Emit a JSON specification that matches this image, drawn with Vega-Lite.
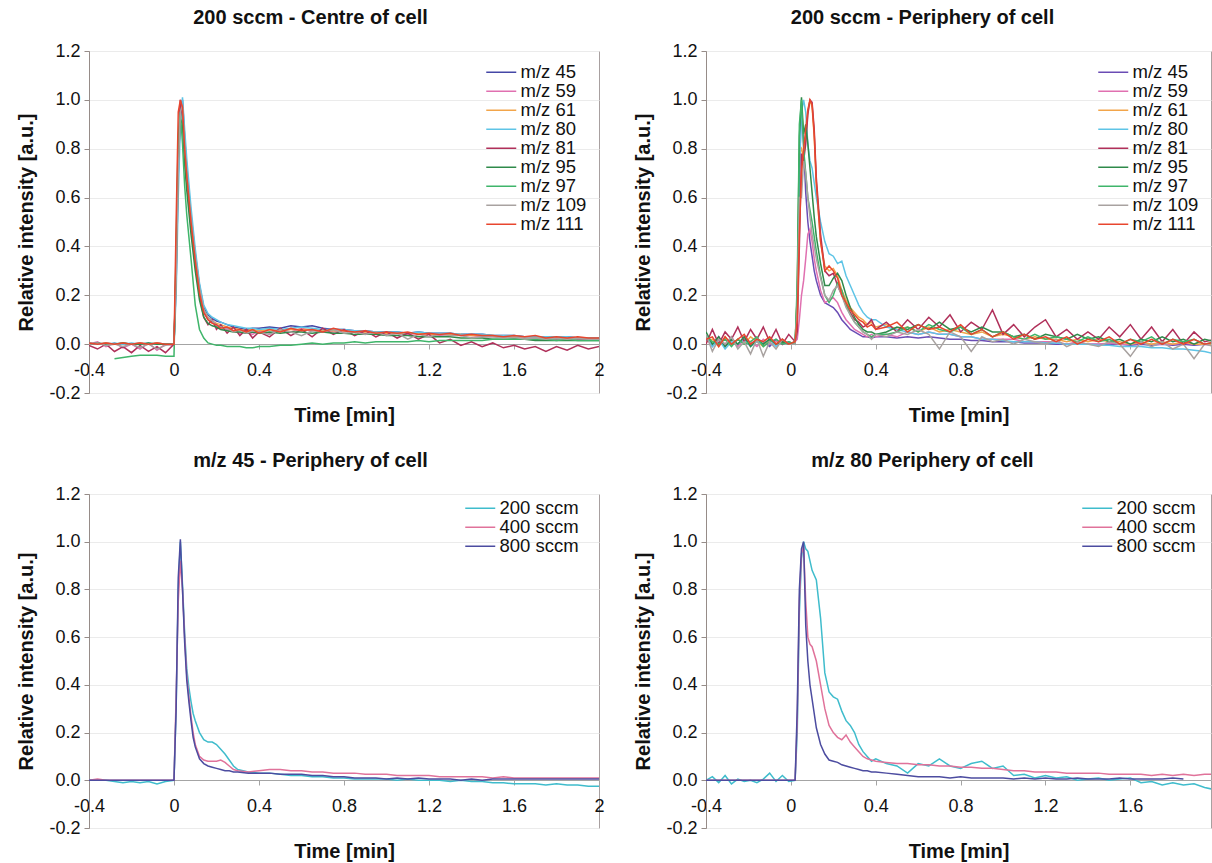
{
"$schema": "https://vega.github.io/schema/vega-lite/v6.json",
"background": "white",
"padding": {"left": 16, "top": 7, "right": 0, "bottom": 0},
"columns": 2,
"align": "each",
"spacing": {"row": 24, "column": 28},
"resolve": {"scale": {"color": "independent"}},
"config": {
  "font": "Liberation Sans",
  "view": {"stroke": "#a8a0a0", "strokeWidth": 1},
  "axis": {"labelFont": "Liberation Sans", "labelFontSize": 18, "labelColor": "#111111", "titleFont": "Liberation Sans", "titleFontSize": 20, "titleFontWeight": "bold", "titleColor": "#111111", "domainColor": "#968c88", "tickColor": "#968c88", "tickSize": 5, "labelOverlap": false, "labelFlush": false},
  "axisX": {"grid": false, "labelPadding": 12, "titlePadding": 26, "domainColor": "#a4a4a4", "tickColor": "#a4a4a4"},
  "axisY": {"grid": true, "gridColor": "#ebebeb", "labelPadding": 4, "titlePadding": 12},
  "legend": {"orient": "top-right", "offset": 12, "symbolType": "M-3,0H3", "symbolSize": 100, "symbolStrokeWidth": 1.5, "labelFont": "Liberation Sans", "labelFontSize": 18.5, "labelColor": "#111111", "labelOffset": 10, "rowPadding": 0, "padding": 0},
  "title": {"font": "Liberation Sans", "fontSize": 20, "fontWeight": "bold", "color": "#111111", "anchor": "middle", "frame": "bounds", "offset": 14},
  "line": {"strokeWidth": 1.5, "clip": true}
},
"datasets": {
"tl": [
{"t":-0.4,"m/z 45":0.005,"m/z 59":0,"m/z 61":0.005,"m/z 80":0.005,"m/z 81":-0.005,"m/z 95":0,"m/z 97":null,"m/z 109":0,"m/z 111":0.005},
{"t":-0.36,"m/z 45":0,"m/z 59":0.01,"m/z 61":0,"m/z 80":0,"m/z 81":-0.02,"m/z 95":0.005,"m/z 97":null,"m/z 109":0.005,"m/z 111":0},
{"t":-0.32,"m/z 45":0.005,"m/z 59":-0.01,"m/z 61":0.005,"m/z 80":0,"m/z 81":0,"m/z 95":0,"m/z 97":null,"m/z 109":-0.005,"m/z 111":0.005},
{"t":-0.28,"m/z 45":0,"m/z 59":0.005,"m/z 61":0,"m/z 80":0.005,"m/z 81":-0.03,"m/z 95":0,"m/z 97":-0.06,"m/z 109":0,"m/z 111":0},
{"t":-0.24,"m/z 45":0.005,"m/z 59":-0.015,"m/z 61":0.005,"m/z 80":0,"m/z 81":-0.01,"m/z 95":0.005,"m/z 97":-0.055,"m/z 109":-0.01,"m/z 111":0.005},
{"t":-0.2,"m/z 45":0,"m/z 59":0,"m/z 61":0,"m/z 80":0.005,"m/z 81":-0.035,"m/z 95":0,"m/z 97":-0.05,"m/z 109":0,"m/z 111":0},
{"t":-0.16,"m/z 45":0.005,"m/z 59":-0.02,"m/z 61":0.005,"m/z 80":0,"m/z 81":-0.005,"m/z 95":0,"m/z 97":-0.045,"m/z 109":-0.015,"m/z 111":0.005},
{"t":-0.12,"m/z 45":0,"m/z 59":0.005,"m/z 61":0,"m/z 80":0.005,"m/z 81":-0.03,"m/z 95":0.005,"m/z 97":-0.045,"m/z 109":0,"m/z 111":0},
{"t":-0.08,"m/z 45":0.005,"m/z 59":-0.025,"m/z 61":0.005,"m/z 80":0,"m/z 81":-0.01,"m/z 95":0,"m/z 97":-0.045,"m/z 109":-0.02,"m/z 111":0.005},
{"t":-0.04,"m/z 45":0,"m/z 59":0,"m/z 61":0,"m/z 80":0,"m/z 81":-0.035,"m/z 95":0,"m/z 97":-0.05,"m/z 109":-0.005,"m/z 111":0},
{"t":0,"m/z 45":0,"m/z 59":-0.005,"m/z 61":0,"m/z 80":0,"m/z 81":0,"m/z 95":0,"m/z 97":-0.05,"m/z 109":0,"m/z 111":0},
{"t":0.01,"m/z 45":0.25,"m/z 59":0.3,"m/z 61":0.3,"m/z 80":0.2,"m/z 81":0.35,"m/z 95":0.3,"m/z 97":0.4,"m/z 109":0.25,"m/z 111":0.5},
{"t":0.02,"m/z 45":0.7,"m/z 59":0.75,"m/z 61":0.75,"m/z 80":0.6,"m/z 81":0.8,"m/z 95":0.75,"m/z 97":0.85,"m/z 109":0.7,"m/z 111":0.95},
{"t":0.03,"m/z 45":0.95,"m/z 59":0.98,"m/z 61":0.97,"m/z 80":0.9,"m/z 81":1.0,"m/z 95":0.92,"m/z 97":0.95,"m/z 109":0.95,"m/z 111":1.0},
{"t":0.04,"m/z 45":1.0,"m/z 59":0.95,"m/z 61":0.96,"m/z 80":1.01,"m/z 81":0.93,"m/z 95":0.9,"m/z 97":0.82,"m/z 109":0.98,"m/z 111":0.97},
{"t":0.05,"m/z 45":0.85,"m/z 59":0.78,"m/z 61":0.8,"m/z 80":0.88,"m/z 81":0.76,"m/z 95":0.74,"m/z 97":0.65,"m/z 109":0.82,"m/z 111":0.8},
{"t":0.06,"m/z 45":0.72,"m/z 59":0.68,"m/z 61":0.7,"m/z 80":0.76,"m/z 81":0.66,"m/z 95":0.63,"m/z 97":0.53,"m/z 109":0.7,"m/z 111":0.69},
{"t":0.08,"m/z 45":0.53,"m/z 59":0.5,"m/z 61":0.51,"m/z 80":0.56,"m/z 81":0.49,"m/z 95":0.45,"m/z 97":0.35,"m/z 109":0.52,"m/z 111":0.5},
{"t":0.1,"m/z 45":0.37,"m/z 59":0.34,"m/z 61":0.35,"m/z 80":0.39,"m/z 81":0.33,"m/z 95":0.3,"m/z 97":0.16,"m/z 109":0.36,"m/z 111":0.34},
{"t":0.12,"m/z 45":0.24,"m/z 59":0.21,"m/z 61":0.22,"m/z 80":0.25,"m/z 81":0.2,"m/z 95":0.18,"m/z 97":0.06,"m/z 109":0.23,"m/z 111":0.21},
{"t":0.14,"m/z 45":0.15,"m/z 59":0.13,"m/z 61":0.14,"m/z 80":0.16,"m/z 81":0.11,"m/z 95":0.11,"m/z 97":0.025,"m/z 109":0.14,"m/z 111":0.13},
{"t":0.16,"m/z 45":0.12,"m/z 59":0.1,"m/z 61":0.11,"m/z 80":0.125,"m/z 81":0.08,"m/z 95":0.085,"m/z 97":0.005,"m/z 109":0.11,"m/z 111":0.1},
{"t":0.18,"m/z 45":0.105,"m/z 59":0.09,"m/z 61":0.095,"m/z 80":0.11,"m/z 81":0.1,"m/z 95":0.075,"m/z 97":0,"m/z 109":0.095,"m/z 111":0.085},
{"t":0.2,"m/z 45":0.095,"m/z 59":0.075,"m/z 61":0.085,"m/z 80":0.1,"m/z 81":0.06,"m/z 95":0.07,"m/z 97":-0.005,"m/z 109":0.08,"m/z 111":0.08},
{"t":0.22,"m/z 45":0.09,"m/z 59":0.07,"m/z 61":0.08,"m/z 80":0.09,"m/z 81":0.08,"m/z 95":0.06,"m/z 97":-0.005,"m/z 109":0.07,"m/z 111":0.065},
{"t":0.25,"m/z 45":0.08,"m/z 59":0.06,"m/z 61":0.07,"m/z 80":0.08,"m/z 81":0.045,"m/z 95":0.055,"m/z 97":-0.01,"m/z 109":0.065,"m/z 111":0.07},
{"t":0.28,"m/z 45":0.07,"m/z 59":0.055,"m/z 61":0.065,"m/z 80":0.075,"m/z 81":0.07,"m/z 95":0.05,"m/z 97":-0.01,"m/z 109":0.05,"m/z 111":0.055},
{"t":0.31,"m/z 45":0.065,"m/z 59":0.045,"m/z 61":0.06,"m/z 80":0.07,"m/z 81":0.035,"m/z 95":0.05,"m/z 97":-0.01,"m/z 109":0.06,"m/z 111":0.06},
{"t":0.34,"m/z 45":0.06,"m/z 59":0.05,"m/z 61":0.055,"m/z 80":0.065,"m/z 81":0.06,"m/z 95":0.045,"m/z 97":-0.015,"m/z 109":0.045,"m/z 111":0.05},
{"t":0.37,"m/z 45":0.065,"m/z 59":0.04,"m/z 61":0.06,"m/z 80":0.065,"m/z 81":0.025,"m/z 95":0.05,"m/z 97":-0.015,"m/z 109":0.055,"m/z 111":0.06},
{"t":0.4,"m/z 45":0.065,"m/z 59":0.055,"m/z 61":0.055,"m/z 80":0.06,"m/z 81":0.05,"m/z 95":0.045,"m/z 97":-0.01,"m/z 109":0.05,"m/z 111":0.045},
{"t":0.45,"m/z 45":0.07,"m/z 59":0.045,"m/z 61":0.06,"m/z 80":0.065,"m/z 81":0.03,"m/z 95":0.05,"m/z 97":-0.01,"m/z 109":0.04,"m/z 111":0.06},
{"t":0.5,"m/z 45":0.065,"m/z 59":0.06,"m/z 61":0.055,"m/z 80":0.06,"m/z 81":0.065,"m/z 95":0.045,"m/z 97":-0.005,"m/z 109":0.06,"m/z 111":0.05},
{"t":0.55,"m/z 45":0.075,"m/z 59":0.05,"m/z 61":0.06,"m/z 80":0.065,"m/z 81":0.035,"m/z 95":0.05,"m/z 97":-0.005,"m/z 109":0.05,"m/z 111":0.065},
{"t":0.6,"m/z 45":0.07,"m/z 59":0.065,"m/z 61":0.06,"m/z 80":0.07,"m/z 81":0.06,"m/z 95":0.05,"m/z 97":0,"m/z 109":0.035,"m/z 111":0.055},
{"t":0.65,"m/z 45":0.075,"m/z 59":0.055,"m/z 61":0.06,"m/z 80":0.065,"m/z 81":0.03,"m/z 95":0.045,"m/z 97":0.005,"m/z 109":0.055,"m/z 111":0.06},
{"t":0.7,"m/z 45":0.065,"m/z 59":0.06,"m/z 61":0.055,"m/z 80":0.06,"m/z 81":0.065,"m/z 95":0.05,"m/z 97":0,"m/z 109":0.05,"m/z 111":0.05},
{"t":0.75,"m/z 45":0.06,"m/z 59":0.05,"m/z 61":0.055,"m/z 80":0.06,"m/z 81":0.04,"m/z 95":0.045,"m/z 97":0.005,"m/z 109":0.06,"m/z 111":0.065},
{"t":0.8,"m/z 45":0.06,"m/z 59":0.055,"m/z 61":0.055,"m/z 80":0.06,"m/z 81":0.06,"m/z 95":0.045,"m/z 97":0.005,"m/z 109":0.045,"m/z 111":0.055},
{"t":0.85,"m/z 45":0.055,"m/z 59":0.05,"m/z 61":0.05,"m/z 80":0.055,"m/z 81":0.035,"m/z 95":0.04,"m/z 97":0.01,"m/z 109":0.05,"m/z 111":0.05},
{"t":0.9,"m/z 45":0.055,"m/z 59":0.045,"m/z 61":0.05,"m/z 80":0.055,"m/z 81":0.055,"m/z 95":0.04,"m/z 97":0.005,"m/z 109":0.04,"m/z 111":0.055},
{"t":0.95,"m/z 45":0.05,"m/z 59":0.05,"m/z 61":0.05,"m/z 80":0.05,"m/z 81":0.03,"m/z 95":0.04,"m/z 97":0.01,"m/z 109":0.05,"m/z 111":0.045},
{"t":1.0,"m/z 45":0.05,"m/z 59":0.04,"m/z 61":0.045,"m/z 80":0.05,"m/z 81":0.05,"m/z 95":0.035,"m/z 97":0.01,"m/z 109":0.035,"m/z 111":0.05},
{"t":1.05,"m/z 45":0.05,"m/z 59":0.045,"m/z 61":0.045,"m/z 80":0.05,"m/z 81":0.025,"m/z 95":0.035,"m/z 97":0.01,"m/z 109":0.045,"m/z 111":0.045},
{"t":1.1,"m/z 45":0.045,"m/z 59":0.04,"m/z 61":0.045,"m/z 80":0.045,"m/z 81":0.045,"m/z 95":0.035,"m/z 97":0.01,"m/z 109":0.02,"m/z 111":0.05},
{"t":1.15,"m/z 45":0.05,"m/z 59":0.045,"m/z 61":0.045,"m/z 80":0.05,"m/z 81":0.02,"m/z 95":0.03,"m/z 97":0.015,"m/z 109":0.04,"m/z 111":0.04},
{"t":1.2,"m/z 45":0.045,"m/z 59":0.04,"m/z 61":0.04,"m/z 80":0.045,"m/z 81":0.04,"m/z 95":0.03,"m/z 97":0.01,"m/z 109":0.03,"m/z 111":0.045},
{"t":1.25,"m/z 45":0.045,"m/z 59":0.035,"m/z 61":0.04,"m/z 80":0.045,"m/z 81":0.005,"m/z 95":0.03,"m/z 97":0.015,"m/z 109":0.04,"m/z 111":0.04},
{"t":1.3,"m/z 45":0.045,"m/z 59":0.04,"m/z 61":0.04,"m/z 80":0.045,"m/z 81":0.02,"m/z 95":0.03,"m/z 97":0.015,"m/z 109":0.035,"m/z 111":0.045},
{"t":1.35,"m/z 45":0.04,"m/z 59":0.035,"m/z 61":0.04,"m/z 80":0.04,"m/z 81":-0.005,"m/z 95":0.025,"m/z 97":0.015,"m/z 109":0.035,"m/z 111":0.035},
{"t":1.4,"m/z 45":0.04,"m/z 59":0.035,"m/z 61":0.035,"m/z 80":0.04,"m/z 81":0.01,"m/z 95":0.025,"m/z 97":0.015,"m/z 109":0.025,"m/z 111":0.04},
{"t":1.45,"m/z 45":0.04,"m/z 59":0.03,"m/z 61":0.035,"m/z 80":0.04,"m/z 81":-0.01,"m/z 95":0.025,"m/z 97":0.015,"m/z 109":0.03,"m/z 111":0.035},
{"t":1.5,"m/z 45":0.035,"m/z 59":0.03,"m/z 61":0.035,"m/z 80":0.035,"m/z 81":0.005,"m/z 95":0.02,"m/z 97":0.02,"m/z 109":0.03,"m/z 111":0.035},
{"t":1.55,"m/z 45":0.035,"m/z 59":0.03,"m/z 61":0.03,"m/z 80":0.035,"m/z 81":-0.015,"m/z 95":0.02,"m/z 97":0.02,"m/z 109":0.025,"m/z 111":0.03},
{"t":1.6,"m/z 45":0.035,"m/z 59":0.025,"m/z 61":0.03,"m/z 80":0.035,"m/z 81":-0.005,"m/z 95":0.02,"m/z 97":0.02,"m/z 109":0.03,"m/z 111":0.035},
{"t":1.65,"m/z 45":0.03,"m/z 59":0.03,"m/z 61":0.03,"m/z 80":0.03,"m/z 81":-0.02,"m/z 95":0.02,"m/z 97":0.02,"m/z 109":0.02,"m/z 111":0.03},
{"t":1.7,"m/z 45":0.03,"m/z 59":0.025,"m/z 61":0.03,"m/z 80":0.03,"m/z 81":-0.01,"m/z 95":0.015,"m/z 97":0.02,"m/z 109":0.025,"m/z 111":0.035},
{"t":1.75,"m/z 45":0.03,"m/z 59":0.025,"m/z 61":0.025,"m/z 80":0.03,"m/z 81":-0.03,"m/z 95":0.015,"m/z 97":0.02,"m/z 109":0.02,"m/z 111":0.025},
{"t":1.8,"m/z 45":0.03,"m/z 59":0.02,"m/z 61":0.025,"m/z 80":0.03,"m/z 81":-0.01,"m/z 95":0.015,"m/z 97":0.015,"m/z 109":0.025,"m/z 111":0.03},
{"t":1.85,"m/z 45":0.03,"m/z 59":0.025,"m/z 61":0.025,"m/z 80":0.03,"m/z 81":-0.025,"m/z 95":0.015,"m/z 97":0.02,"m/z 109":0.02,"m/z 111":0.025},
{"t":1.9,"m/z 45":0.025,"m/z 59":0.02,"m/z 61":0.025,"m/z 80":0.025,"m/z 81":-0.005,"m/z 95":0.015,"m/z 97":0.015,"m/z 109":0.025,"m/z 111":0.03},
{"t":1.95,"m/z 45":0.025,"m/z 59":0.02,"m/z 61":0.025,"m/z 80":0.025,"m/z 81":-0.02,"m/z 95":0.015,"m/z 97":0.015,"m/z 109":0.02,"m/z 111":0.025},
{"t":2.0,"m/z 45":0.025,"m/z 59":0.02,"m/z 61":0.025,"m/z 80":0.025,"m/z 81":-0.01,"m/z 95":0.015,"m/z 97":0.015,"m/z 109":0.02,"m/z 111":0.025}
],
"tr": [
{"t":-0.4,"m/z 45":0.02,"m/z 59":0.03,"m/z 61":0.01,"m/z 80":0.04,"m/z 81":0,"m/z 95":0.05,"m/z 97":0.03,"m/z 109":0.04,"m/z 111":0.02},
{"t":-0.37,"m/z 45":0,"m/z 59":-0.01,"m/z 61":0.02,"m/z 80":-0.01,"m/z 81":0.06,"m/z 95":0,"m/z 97":0.01,"m/z 109":-0.03,"m/z 111":0.03},
{"t":-0.34,"m/z 45":0.03,"m/z 59":0.02,"m/z 61":-0.01,"m/z 80":0.02,"m/z 81":0,"m/z 95":0.03,"m/z 97":0,"m/z 109":0.02,"m/z 111":-0.01},
{"t":-0.31,"m/z 45":-0.01,"m/z 59":0,"m/z 61":0.03,"m/z 80":-0.02,"m/z 81":0.05,"m/z 95":-0.01,"m/z 97":0.02,"m/z 109":0,"m/z 111":0.03},
{"t":-0.28,"m/z 45":0.02,"m/z 59":0.03,"m/z 61":0,"m/z 80":0.01,"m/z 81":0.02,"m/z 95":0.02,"m/z 97":-0.01,"m/z 109":0.03,"m/z 111":0},
{"t":-0.25,"m/z 45":0,"m/z 59":-0.01,"m/z 61":0.02,"m/z 80":0,"m/z 81":0.07,"m/z 95":0,"m/z 97":0.02,"m/z 109":-0.02,"m/z 111":0.02},
{"t":-0.22,"m/z 45":0.03,"m/z 59":0.02,"m/z 61":0,"m/z 80":0.02,"m/z 81":0.01,"m/z 95":0.03,"m/z 97":0,"m/z 109":0.01,"m/z 111":0.04},
{"t":-0.19,"m/z 45":0,"m/z 59":0.01,"m/z 61":0.03,"m/z 80":-0.01,"m/z 81":0.06,"m/z 95":-0.01,"m/z 97":0.01,"m/z 109":-0.04,"m/z 111":0},
{"t":-0.16,"m/z 45":0.02,"m/z 59":-0.01,"m/z 61":0.01,"m/z 80":0.01,"m/z 81":0.02,"m/z 95":0.02,"m/z 97":0.03,"m/z 109":0.02,"m/z 111":0.02},
{"t":-0.13,"m/z 45":0.01,"m/z 59":0.02,"m/z 61":-0.01,"m/z 80":0,"m/z 81":0.07,"m/z 95":0,"m/z 97":-0.01,"m/z 109":-0.05,"m/z 111":0.01},
{"t":-0.1,"m/z 45":-0.01,"m/z 59":0,"m/z 61":0.02,"m/z 80":0.02,"m/z 81":0.01,"m/z 95":0.02,"m/z 97":0.01,"m/z 109":0.01,"m/z 111":0.03},
{"t":-0.07,"m/z 45":0.02,"m/z 59":0.01,"m/z 61":0,"m/z 80":-0.01,"m/z 81":0.06,"m/z 95":0,"m/z 97":0.02,"m/z 109":-0.02,"m/z 111":0},
{"t":-0.04,"m/z 45":0,"m/z 59":0.02,"m/z 61":0.02,"m/z 80":0.01,"m/z 81":0,"m/z 95":0.01,"m/z 97":0,"m/z 109":0.02,"m/z 111":0.02},
{"t":-0.01,"m/z 45":0.01,"m/z 59":0,"m/z 61":0,"m/z 80":0,"m/z 81":0.04,"m/z 95":0,"m/z 97":0.01,"m/z 109":0,"m/z 111":0},
{"t":0.02,"m/z 45":0,"m/z 59":0.01,"m/z 61":0.01,"m/z 80":0,"m/z 81":0.01,"m/z 95":0.01,"m/z 97":0,"m/z 109":0,"m/z 111":0.01},
{"t":0.03,"m/z 45":0.15,"m/z 59":0.02,"m/z 61":0.2,"m/z 80":0.15,"m/z 81":0.05,"m/z 95":0.2,"m/z 97":0.25,"m/z 109":0.15,"m/z 111":0.1},
{"t":0.04,"m/z 45":0.7,"m/z 59":0.1,"m/z 61":0.78,"m/z 80":0.7,"m/z 81":0.4,"m/z 95":0.85,"m/z 97":0.9,"m/z 109":0.6,"m/z 111":0.45},
{"t":0.05,"m/z 45":0.98,"m/z 59":0.2,"m/z 61":0.8,"m/z 80":0.95,"m/z 81":0.78,"m/z 95":1.01,"m/z 97":1.0,"m/z 109":0.6,"m/z 111":0.7},
{"t":0.06,"m/z 45":0.82,"m/z 59":0.26,"m/z 61":0.76,"m/z 80":1.0,"m/z 81":0.75,"m/z 95":0.86,"m/z 97":0.8,"m/z 109":0.75,"m/z 111":0.8},
{"t":0.07,"m/z 45":0.62,"m/z 59":0.35,"m/z 61":0.85,"m/z 80":0.95,"m/z 81":0.82,"m/z 95":0.9,"m/z 97":0.7,"m/z 109":0.7,"m/z 111":0.88},
{"t":0.08,"m/z 45":0.5,"m/z 59":0.45,"m/z 61":0.95,"m/z 80":0.82,"m/z 81":0.94,"m/z 95":0.82,"m/z 97":0.6,"m/z 109":0.6,"m/z 111":0.96},
{"t":0.09,"m/z 45":0.42,"m/z 59":0.47,"m/z 61":1.0,"m/z 80":0.75,"m/z 81":1.0,"m/z 95":0.72,"m/z 97":0.55,"m/z 109":0.52,"m/z 111":1.0},
{"t":0.1,"m/z 45":0.36,"m/z 59":0.42,"m/z 61":0.97,"m/z 80":0.72,"m/z 81":0.99,"m/z 95":0.62,"m/z 97":0.5,"m/z 109":0.45,"m/z 111":0.98},
{"t":0.11,"m/z 45":0.3,"m/z 59":0.35,"m/z 61":0.85,"m/z 80":0.66,"m/z 81":0.88,"m/z 95":0.52,"m/z 97":0.44,"m/z 109":0.4,"m/z 111":0.86},
{"t":0.12,"m/z 45":0.26,"m/z 59":0.3,"m/z 61":0.65,"m/z 80":0.6,"m/z 81":0.68,"m/z 95":0.44,"m/z 97":0.38,"m/z 109":0.35,"m/z 111":0.66},
{"t":0.14,"m/z 45":0.2,"m/z 59":0.22,"m/z 61":0.42,"m/z 80":0.5,"m/z 81":0.45,"m/z 95":0.33,"m/z 97":0.28,"m/z 109":0.27,"m/z 111":0.42},
{"t":0.16,"m/z 45":0.17,"m/z 59":0.17,"m/z 61":0.32,"m/z 80":0.42,"m/z 81":0.3,"m/z 95":0.24,"m/z 97":0.2,"m/z 109":0.2,"m/z 111":0.3},
{"t":0.18,"m/z 45":0.16,"m/z 59":0.18,"m/z 61":0.3,"m/z 80":0.37,"m/z 81":0.28,"m/z 95":0.24,"m/z 97":0.17,"m/z 109":0.18,"m/z 111":0.32},
{"t":0.2,"m/z 45":0.15,"m/z 59":0.19,"m/z 61":0.31,"m/z 80":0.36,"m/z 81":0.29,"m/z 95":0.27,"m/z 97":0.2,"m/z 109":0.22,"m/z 111":0.3},
{"t":0.22,"m/z 45":0.13,"m/z 59":0.17,"m/z 61":0.28,"m/z 80":0.33,"m/z 81":0.24,"m/z 95":0.29,"m/z 97":0.25,"m/z 109":0.24,"m/z 111":0.27},
{"t":0.24,"m/z 45":0.1,"m/z 59":0.13,"m/z 61":0.22,"m/z 80":0.34,"m/z 81":0.2,"m/z 95":0.26,"m/z 97":0.22,"m/z 109":0.2,"m/z 111":0.2},
{"t":0.26,"m/z 45":0.08,"m/z 59":0.1,"m/z 61":0.18,"m/z 80":0.28,"m/z 81":0.16,"m/z 95":0.2,"m/z 97":0.16,"m/z 109":0.15,"m/z 111":0.17},
{"t":0.28,"m/z 45":0.06,"m/z 59":0.08,"m/z 61":0.15,"m/z 80":0.24,"m/z 81":0.13,"m/z 95":0.15,"m/z 97":0.12,"m/z 109":0.12,"m/z 111":0.14},
{"t":0.3,"m/z 45":0.05,"m/z 59":0.06,"m/z 61":0.13,"m/z 80":0.2,"m/z 81":0.1,"m/z 95":0.11,"m/z 97":0.09,"m/z 109":0.09,"m/z 111":0.12},
{"t":0.32,"m/z 45":0.04,"m/z 59":0.05,"m/z 61":0.11,"m/z 80":0.16,"m/z 81":0.09,"m/z 95":0.08,"m/z 97":0.07,"m/z 109":0.07,"m/z 111":0.1},
{"t":0.34,"m/z 45":0.03,"m/z 59":0.04,"m/z 61":0.1,"m/z 80":0.13,"m/z 81":0.07,"m/z 95":0.06,"m/z 97":0.05,"m/z 109":0.05,"m/z 111":0.09},
{"t":0.36,"m/z 45":0.03,"m/z 59":0.03,"m/z 61":0.08,"m/z 80":0.11,"m/z 81":0.08,"m/z 95":0.05,"m/z 97":0.04,"m/z 109":0.04,"m/z 111":0.07},
{"t":0.38,"m/z 45":0.025,"m/z 59":0.04,"m/z 61":0.09,"m/z 80":0.1,"m/z 81":0.1,"m/z 95":0.05,"m/z 97":0.03,"m/z 109":0.02,"m/z 111":0.08},
{"t":0.4,"m/z 45":0.03,"m/z 59":0.03,"m/z 61":0.07,"m/z 80":0.1,"m/z 81":0.06,"m/z 95":0.04,"m/z 97":0.04,"m/z 109":0.04,"m/z 111":0.06},
{"t":0.45,"m/z 45":0.03,"m/z 59":0.04,"m/z 61":0.08,"m/z 80":0.07,"m/z 81":0.09,"m/z 95":0.05,"m/z 97":0.04,"m/z 109":0.03,"m/z 111":0.07},
{"t":0.5,"m/z 45":0.025,"m/z 59":0.03,"m/z 61":0.06,"m/z 80":0.06,"m/z 81":0.05,"m/z 95":0.07,"m/z 97":0.05,"m/z 109":0.05,"m/z 111":0.09},
{"t":0.55,"m/z 45":0.03,"m/z 59":0.05,"m/z 61":0.07,"m/z 80":0.05,"m/z 81":0.1,"m/z 95":0.06,"m/z 97":0.07,"m/z 109":0.04,"m/z 111":0.05},
{"t":0.6,"m/z 45":0.025,"m/z 59":0.04,"m/z 61":0.05,"m/z 80":0.04,"m/z 81":0.06,"m/z 95":0.08,"m/z 97":0.05,"m/z 109":0.06,"m/z 111":0.08},
{"t":0.65,"m/z 45":0.03,"m/z 59":0.05,"m/z 61":0.07,"m/z 80":0.05,"m/z 81":0.11,"m/z 95":0.06,"m/z 97":0.08,"m/z 109":0.04,"m/z 111":0.06},
{"t":0.7,"m/z 45":0.025,"m/z 59":0.04,"m/z 61":0.05,"m/z 80":0.04,"m/z 81":0.07,"m/z 95":0.09,"m/z 97":0.06,"m/z 109":-0.02,"m/z 111":0.07},
{"t":0.75,"m/z 45":0.02,"m/z 59":0.04,"m/z 61":0.06,"m/z 80":0.04,"m/z 81":0.12,"m/z 95":0.06,"m/z 97":0.05,"m/z 109":0.05,"m/z 111":0.05},
{"t":0.8,"m/z 45":0.02,"m/z 59":0.03,"m/z 61":0.05,"m/z 80":0.03,"m/z 81":0.05,"m/z 95":0.07,"m/z 97":0.07,"m/z 109":0.03,"m/z 111":0.08},
{"t":0.85,"m/z 45":0.015,"m/z 59":0.03,"m/z 61":0.04,"m/z 80":0.03,"m/z 81":0.09,"m/z 95":0.05,"m/z 97":0.04,"m/z 109":-0.03,"m/z 111":0.04},
{"t":0.9,"m/z 45":0.015,"m/z 59":0.02,"m/z 61":0.05,"m/z 80":0.02,"m/z 81":0.06,"m/z 95":0.07,"m/z 97":0.06,"m/z 109":0.03,"m/z 111":0.06},
{"t":0.95,"m/z 45":0.01,"m/z 59":0.02,"m/z 61":0.03,"m/z 80":0.02,"m/z 81":0.14,"m/z 95":0.05,"m/z 97":0.03,"m/z 109":0.01,"m/z 111":0.03},
{"t":1.0,"m/z 45":0.01,"m/z 59":0.02,"m/z 61":0.04,"m/z 80":0.015,"m/z 81":0.04,"m/z 95":0.05,"m/z 97":0.05,"m/z 109":0.02,"m/z 111":0.05},
{"t":1.05,"m/z 45":0.01,"m/z 59":0.02,"m/z 61":0.03,"m/z 80":0.01,"m/z 81":0.08,"m/z 95":0.03,"m/z 97":0.03,"m/z 109":0,"m/z 111":0.02},
{"t":1.1,"m/z 45":0.005,"m/z 59":0.01,"m/z 61":0.02,"m/z 80":0.01,"m/z 81":0.03,"m/z 95":0.04,"m/z 97":0.02,"m/z 109":0.02,"m/z 111":0.04},
{"t":1.15,"m/z 45":0.005,"m/z 59":0.01,"m/z 61":0.03,"m/z 80":0.01,"m/z 81":0.07,"m/z 95":0.02,"m/z 97":0.04,"m/z 109":0.01,"m/z 111":0.02},
{"t":1.2,"m/z 45":0.005,"m/z 59":0.01,"m/z 61":0.02,"m/z 80":0.005,"m/z 81":0.1,"m/z 95":0.04,"m/z 97":0.02,"m/z 109":0,"m/z 111":0.03},
{"t":1.25,"m/z 45":0,"m/z 59":0.01,"m/z 61":0.02,"m/z 80":0.005,"m/z 81":0.03,"m/z 95":0.03,"m/z 97":0.03,"m/z 109":0.02,"m/z 111":0.01},
{"t":1.3,"m/z 45":0,"m/z 59":0,"m/z 61":0.01,"m/z 80":0,"m/z 81":0.06,"m/z 95":0.02,"m/z 97":0.02,"m/z 109":-0.01,"m/z 111":0.03},
{"t":1.35,"m/z 45":0,"m/z 59":0.01,"m/z 61":0.02,"m/z 80":0,"m/z 81":0.02,"m/z 95":0.04,"m/z 97":0.01,"m/z 109":0.01,"m/z 111":0},
{"t":1.4,"m/z 45":0,"m/z 59":0,"m/z 61":0.01,"m/z 80":0,"m/z 81":0.05,"m/z 95":0.02,"m/z 97":0.03,"m/z 109":0,"m/z 111":0.02},
{"t":1.45,"m/z 45":0,"m/z 59":0,"m/z 61":0.02,"m/z 80":-0.005,"m/z 81":0.02,"m/z 95":0.03,"m/z 97":0.01,"m/z 109":-0.01,"m/z 111":0.01},
{"t":1.5,"m/z 45":0,"m/z 59":0.005,"m/z 61":0.01,"m/z 80":-0.005,"m/z 81":0.07,"m/z 95":0.01,"m/z 97":0.02,"m/z 109":0.01,"m/z 111":0.03},
{"t":1.55,"m/z 45":0,"m/z 59":0,"m/z 61":0.01,"m/z 80":-0.01,"m/z 81":0.03,"m/z 95":0.02,"m/z 97":0,"m/z 109":0,"m/z 111":0},
{"t":1.6,"m/z 45":-0.005,"m/z 59":0,"m/z 61":0,"m/z 80":-0.01,"m/z 81":0.08,"m/z 95":0,"m/z 97":0.02,"m/z 109":-0.05,"m/z 111":0.02},
{"t":1.65,"m/z 45":0,"m/z 59":0.005,"m/z 61":0.01,"m/z 80":-0.01,"m/z 81":0.02,"m/z 95":0.02,"m/z 97":0.01,"m/z 109":0.01,"m/z 111":0},
{"t":1.7,"m/z 45":-0.005,"m/z 59":0,"m/z 61":0,"m/z 80":-0.015,"m/z 81":0.07,"m/z 95":0.01,"m/z 97":0.03,"m/z 109":-0.01,"m/z 111":0.02},
{"t":1.75,"m/z 45":0,"m/z 59":0,"m/z 61":0.01,"m/z 80":-0.015,"m/z 81":0.01,"m/z 95":0.03,"m/z 97":0,"m/z 109":0.01,"m/z 111":0},
{"t":1.8,"m/z 45":-0.005,"m/z 59":0,"m/z 61":0,"m/z 80":-0.02,"m/z 81":0.06,"m/z 95":0.01,"m/z 97":0.02,"m/z 109":-0.02,"m/z 111":0.02},
{"t":1.85,"m/z 45":0,"m/z 59":0.005,"m/z 61":0.01,"m/z 80":-0.02,"m/z 81":0,"m/z 95":0.02,"m/z 97":0.01,"m/z 109":0,"m/z 111":0},
{"t":1.9,"m/z 45":-0.005,"m/z 59":0,"m/z 61":0,"m/z 80":-0.025,"m/z 81":0.05,"m/z 95":0,"m/z 97":0.02,"m/z 109":-0.06,"m/z 111":0.02},
{"t":1.95,"m/z 45":0,"m/z 59":0,"m/z 61":0,"m/z 80":-0.03,"m/z 81":0.01,"m/z 95":0.02,"m/z 97":0,"m/z 109":0,"m/z 111":0},
{"t":2.0,"m/z 45":-0.005,"m/z 59":0,"m/z 61":0,"m/z 80":-0.04,"m/z 81":0.02,"m/z 95":0.01,"m/z 97":0.01,"m/z 109":-0.01,"m/z 111":0.01}
],
"bl": [
{"t":-0.4,"200 sccm":0,"400 sccm":0,"800 sccm":0},
{"t":-0.36,"200 sccm":0,"400 sccm":0.005,"800 sccm":0},
{"t":-0.32,"200 sccm":0,"400 sccm":0,"800 sccm":0},
{"t":-0.28,"200 sccm":-0.005,"400 sccm":0,"800 sccm":0},
{"t":-0.24,"200 sccm":-0.01,"400 sccm":0,"800 sccm":0},
{"t":-0.2,"200 sccm":-0.005,"400 sccm":0,"800 sccm":0},
{"t":-0.16,"200 sccm":-0.01,"400 sccm":0,"800 sccm":0},
{"t":-0.12,"200 sccm":-0.005,"400 sccm":0,"800 sccm":0},
{"t":-0.08,"200 sccm":-0.015,"400 sccm":0,"800 sccm":0},
{"t":-0.04,"200 sccm":-0.005,"400 sccm":0,"800 sccm":0},
{"t":0,"200 sccm":0,"400 sccm":0,"800 sccm":0},
{"t":0.01,"200 sccm":0.3,"400 sccm":0.35,"800 sccm":0.3},
{"t":0.02,"200 sccm":0.8,"400 sccm":0.75,"800 sccm":0.85},
{"t":0.03,"200 sccm":1.0,"400 sccm":0.92,"800 sccm":1.01},
{"t":0.04,"200 sccm":0.82,"400 sccm":0.8,"800 sccm":0.8},
{"t":0.05,"200 sccm":0.62,"400 sccm":0.6,"800 sccm":0.58},
{"t":0.06,"200 sccm":0.47,"400 sccm":0.44,"800 sccm":0.42},
{"t":0.07,"200 sccm":0.39,"400 sccm":0.35,"800 sccm":0.33},
{"t":0.08,"200 sccm":0.33,"400 sccm":0.27,"800 sccm":0.25},
{"t":0.09,"200 sccm":0.28,"400 sccm":0.2,"800 sccm":0.18},
{"t":0.1,"200 sccm":0.25,"400 sccm":0.15,"800 sccm":0.14},
{"t":0.12,"200 sccm":0.2,"400 sccm":0.1,"800 sccm":0.09},
{"t":0.14,"200 sccm":0.17,"400 sccm":0.085,"800 sccm":0.07},
{"t":0.16,"200 sccm":0.16,"400 sccm":0.08,"800 sccm":0.06},
{"t":0.18,"200 sccm":0.16,"400 sccm":0.08,"800 sccm":0.055},
{"t":0.2,"200 sccm":0.15,"400 sccm":0.08,"800 sccm":0.05},
{"t":0.22,"200 sccm":0.13,"400 sccm":0.085,"800 sccm":0.045},
{"t":0.24,"200 sccm":0.11,"400 sccm":0.075,"800 sccm":0.04},
{"t":0.26,"200 sccm":0.085,"400 sccm":0.06,"800 sccm":0.04},
{"t":0.28,"200 sccm":0.06,"400 sccm":0.045,"800 sccm":0.035},
{"t":0.3,"200 sccm":0.045,"400 sccm":0.04,"800 sccm":0.035},
{"t":0.35,"200 sccm":0.035,"400 sccm":0.035,"800 sccm":0.03},
{"t":0.4,"200 sccm":0.03,"400 sccm":0.04,"800 sccm":0.03},
{"t":0.45,"200 sccm":0.03,"400 sccm":0.045,"800 sccm":0.03},
{"t":0.5,"200 sccm":0.025,"400 sccm":0.045,"800 sccm":0.025},
{"t":0.55,"200 sccm":0.02,"400 sccm":0.04,"800 sccm":0.025},
{"t":0.6,"200 sccm":0.02,"400 sccm":0.04,"800 sccm":0.025},
{"t":0.65,"200 sccm":0.015,"400 sccm":0.035,"800 sccm":0.02},
{"t":0.7,"200 sccm":0.015,"400 sccm":0.035,"800 sccm":0.02},
{"t":0.75,"200 sccm":0.01,"400 sccm":0.03,"800 sccm":0.015},
{"t":0.8,"200 sccm":0.01,"400 sccm":0.03,"800 sccm":0.015},
{"t":0.85,"200 sccm":0.005,"400 sccm":0.03,"800 sccm":0.01},
{"t":0.9,"200 sccm":0.005,"400 sccm":0.025,"800 sccm":0.01},
{"t":0.95,"200 sccm":0.005,"400 sccm":0.025,"800 sccm":0.01},
{"t":1.0,"200 sccm":0.005,"400 sccm":0.025,"800 sccm":0.005},
{"t":1.05,"200 sccm":0,"400 sccm":0.02,"800 sccm":0.01},
{"t":1.1,"200 sccm":0.005,"400 sccm":0.02,"800 sccm":0.005},
{"t":1.15,"200 sccm":0,"400 sccm":0.02,"800 sccm":0.01},
{"t":1.2,"200 sccm":0,"400 sccm":0.02,"800 sccm":0.005},
{"t":1.25,"200 sccm":0,"400 sccm":0.015,"800 sccm":0.005},
{"t":1.3,"200 sccm":-0.005,"400 sccm":0.015,"800 sccm":0.005},
{"t":1.35,"200 sccm":0,"400 sccm":0.015,"800 sccm":0},
{"t":1.4,"200 sccm":-0.005,"400 sccm":0.015,"800 sccm":0.005},
{"t":1.45,"200 sccm":-0.005,"400 sccm":0.015,"800 sccm":0},
{"t":1.5,"200 sccm":-0.01,"400 sccm":0.01,"800 sccm":0.005},
{"t":1.55,"200 sccm":-0.01,"400 sccm":0.015,"800 sccm":0.005},
{"t":1.6,"200 sccm":-0.015,"400 sccm":0.01,"800 sccm":0.005},
{"t":1.65,"200 sccm":-0.015,"400 sccm":0.01,"800 sccm":0.005},
{"t":1.7,"200 sccm":-0.015,"400 sccm":0.01,"800 sccm":0.005},
{"t":1.75,"200 sccm":-0.02,"400 sccm":0.01,"800 sccm":0.005},
{"t":1.8,"200 sccm":-0.015,"400 sccm":0.01,"800 sccm":0.005},
{"t":1.85,"200 sccm":-0.02,"400 sccm":0.01,"800 sccm":0.005},
{"t":1.9,"200 sccm":-0.02,"400 sccm":0.01,"800 sccm":0.005},
{"t":1.95,"200 sccm":-0.025,"400 sccm":0.01,"800 sccm":0.005},
{"t":2.0,"200 sccm":-0.025,"400 sccm":0.01,"800 sccm":0.005}
],
"br": [
{"t":-0.4,"200 sccm":0,"400 sccm":0,"800 sccm":0},
{"t":-0.37,"200 sccm":0.015,"400 sccm":0,"800 sccm":0},
{"t":-0.34,"200 sccm":-0.01,"400 sccm":0,"800 sccm":0},
{"t":-0.31,"200 sccm":0.02,"400 sccm":0,"800 sccm":0},
{"t":-0.28,"200 sccm":-0.015,"400 sccm":0,"800 sccm":0},
{"t":-0.25,"200 sccm":0.005,"400 sccm":0,"800 sccm":0},
{"t":-0.22,"200 sccm":-0.005,"400 sccm":0,"800 sccm":0},
{"t":-0.19,"200 sccm":0,"400 sccm":0,"800 sccm":0},
{"t":-0.16,"200 sccm":-0.01,"400 sccm":0,"800 sccm":0},
{"t":-0.13,"200 sccm":0.005,"400 sccm":0,"800 sccm":0},
{"t":-0.1,"200 sccm":0.03,"400 sccm":0,"800 sccm":0},
{"t":-0.07,"200 sccm":-0.005,"400 sccm":0,"800 sccm":0},
{"t":-0.04,"200 sccm":0.02,"400 sccm":0,"800 sccm":0},
{"t":-0.01,"200 sccm":-0.005,"400 sccm":0,"800 sccm":0},
{"t":0.02,"200 sccm":0,"400 sccm":0,"800 sccm":0},
{"t":0.03,"200 sccm":0.2,"400 sccm":0.25,"800 sccm":0.3},
{"t":0.04,"200 sccm":0.7,"400 sccm":0.75,"800 sccm":0.8},
{"t":0.05,"200 sccm":0.93,"400 sccm":0.95,"800 sccm":0.97},
{"t":0.06,"200 sccm":1.0,"400 sccm":0.98,"800 sccm":1.0},
{"t":0.07,"200 sccm":0.97,"400 sccm":0.75,"800 sccm":0.65},
{"t":0.08,"200 sccm":0.96,"400 sccm":0.6,"800 sccm":0.5},
{"t":0.09,"200 sccm":0.92,"400 sccm":0.57,"800 sccm":0.4},
{"t":0.1,"200 sccm":0.88,"400 sccm":0.56,"800 sccm":0.34},
{"t":0.12,"200 sccm":0.84,"400 sccm":0.5,"800 sccm":0.22},
{"t":0.14,"200 sccm":0.68,"400 sccm":0.4,"800 sccm":0.15},
{"t":0.16,"200 sccm":0.45,"400 sccm":0.3,"800 sccm":0.11},
{"t":0.18,"200 sccm":0.37,"400 sccm":0.23,"800 sccm":0.085},
{"t":0.2,"200 sccm":0.35,"400 sccm":0.2,"800 sccm":0.08},
{"t":0.22,"200 sccm":0.34,"400 sccm":0.18,"800 sccm":0.075},
{"t":0.24,"200 sccm":0.29,"400 sccm":0.17,"800 sccm":0.065},
{"t":0.26,"200 sccm":0.25,"400 sccm":0.19,"800 sccm":0.06},
{"t":0.28,"200 sccm":0.23,"400 sccm":0.16,"800 sccm":0.055},
{"t":0.3,"200 sccm":0.2,"400 sccm":0.14,"800 sccm":0.05},
{"t":0.32,"200 sccm":0.15,"400 sccm":0.12,"800 sccm":0.045},
{"t":0.34,"200 sccm":0.12,"400 sccm":0.1,"800 sccm":0.04},
{"t":0.36,"200 sccm":0.1,"400 sccm":0.09,"800 sccm":0.04},
{"t":0.38,"200 sccm":0.08,"400 sccm":0.085,"800 sccm":0.035},
{"t":0.4,"200 sccm":0.09,"400 sccm":0.08,"800 sccm":0.035},
{"t":0.45,"200 sccm":0.07,"400 sccm":0.075,"800 sccm":0.03},
{"t":0.5,"200 sccm":0.06,"400 sccm":0.07,"800 sccm":0.025},
{"t":0.55,"200 sccm":0.03,"400 sccm":0.07,"800 sccm":0.02},
{"t":0.6,"200 sccm":0.07,"400 sccm":0.065,"800 sccm":0.015},
{"t":0.65,"200 sccm":0.06,"400 sccm":0.065,"800 sccm":0.015},
{"t":0.7,"200 sccm":0.09,"400 sccm":0.06,"800 sccm":0.015},
{"t":0.75,"200 sccm":0.06,"400 sccm":0.06,"800 sccm":0.01},
{"t":0.8,"200 sccm":0.05,"400 sccm":0.055,"800 sccm":0.015},
{"t":0.85,"200 sccm":0.07,"400 sccm":0.055,"800 sccm":0.01},
{"t":0.9,"200 sccm":0.08,"400 sccm":0.05,"800 sccm":0.01},
{"t":0.95,"200 sccm":0.05,"400 sccm":0.05,"800 sccm":0.01},
{"t":1.0,"200 sccm":0.06,"400 sccm":0.045,"800 sccm":0.01},
{"t":1.05,"200 sccm":0.02,"400 sccm":0.04,"800 sccm":0.005},
{"t":1.1,"200 sccm":0.025,"400 sccm":0.04,"800 sccm":0.01},
{"t":1.15,"200 sccm":0.01,"400 sccm":0.035,"800 sccm":0.005},
{"t":1.2,"200 sccm":0.02,"400 sccm":0.035,"800 sccm":0.01},
{"t":1.25,"200 sccm":0.01,"400 sccm":0.035,"800 sccm":0.005},
{"t":1.3,"200 sccm":0.015,"400 sccm":0.03,"800 sccm":0.005},
{"t":1.35,"200 sccm":0,"400 sccm":0.03,"800 sccm":0.01},
{"t":1.4,"200 sccm":0.005,"400 sccm":0.03,"800 sccm":0.005},
{"t":1.45,"200 sccm":0.01,"400 sccm":0.03,"800 sccm":0.005},
{"t":1.5,"200 sccm":0,"400 sccm":0.025,"800 sccm":0.005},
{"t":1.55,"200 sccm":0.005,"400 sccm":0.025,"800 sccm":0.01},
{"t":1.6,"200 sccm":0.01,"400 sccm":0.025,"800 sccm":0.005},
{"t":1.65,"200 sccm":-0.01,"400 sccm":0.025,"800 sccm":0.005},
{"t":1.7,"200 sccm":-0.005,"400 sccm":0.02,"800 sccm":0.005},
{"t":1.75,"200 sccm":-0.02,"400 sccm":0.025,"800 sccm":0.005},
{"t":1.8,"200 sccm":-0.01,"400 sccm":0.02,"800 sccm":0.01},
{"t":1.85,"200 sccm":-0.02,"400 sccm":0.025,"800 sccm":0.005},
{"t":1.9,"200 sccm":-0.015,"400 sccm":0.02,"800 sccm":null},
{"t":1.95,"200 sccm":-0.03,"400 sccm":0.025,"800 sccm":null},
{"t":2.0,"200 sccm":-0.04,"400 sccm":0.025,"800 sccm":null}
]
},
"concat": [
{
  "title": "200 sccm - Centre of cell",
  "width": 510, "height": 342,
  "data": {"name": "tl"},
  "transform": [{"fold": ["m/z 45","m/z 59","m/z 61","m/z 80","m/z 81","m/z 95","m/z 97","m/z 109","m/z 111"], "as": ["series","v"]}],
  "mark": {"type": "line", "strokeWidth": 1.5, "clip": true},
  "encoding": {
    "x": {"field": "t", "type": "quantitative", "scale": {"domain": [-0.4, 2], "nice": false, "zero": false}, "axis": {"title": "Time [min]", "values": [-0.4,0,0.4,0.8,1.2,1.6,2], "offset": -49, "labelExpr": "datum.value < 0 ? '-' + format(-datum.value, '~g') : format(datum.value, '~g')"}},
    "y": {"field": "v", "type": "quantitative", "scale": {"domain": [-0.2, 1.2], "nice": false, "zero": false}, "axis": {"title": "Relative intensity [a.u.]", "values": [-0.2,0,0.2,0.4,0.6,0.8,1,1.2], "labelExpr": "datum.value < 0 ? '-' + format(-datum.value, '.1f') : format(datum.value, '.1f')"}},
    "color": {"field": "series", "type": "nominal", "scale": {"domain": ["m/z 45","m/z 59","m/z 61","m/z 80","m/z 81","m/z 95","m/z 97","m/z 109","m/z 111"], "range": ["#4447a6","#e070b0","#f2a54a","#5ec4e6","#b0305a","#2f8a4a","#3fb56a","#a8a2a0","#e8462e"]}, "legend": {"title": null}}
  }
},
{
  "title": "200 sccm - Periphery of cell",
  "width": 505, "height": 342,
  "data": {"name": "tr"},
  "transform": [{"fold": ["m/z 45","m/z 59","m/z 61","m/z 80","m/z 81","m/z 95","m/z 97","m/z 109","m/z 111"], "as": ["series","v"]}],
  "mark": {"type": "line", "strokeWidth": 1.5, "clip": true},
  "encoding": {
    "x": {"field": "t", "type": "quantitative", "scale": {"domain": [-0.4, 1.98], "nice": false, "zero": false}, "axis": {"title": "Time [min]", "values": [-0.4,0,0.4,0.8,1.2,1.6], "offset": -49, "labelExpr": "datum.value < 0 ? '-' + format(-datum.value, '~g') : format(datum.value, '~g')"}},
    "y": {"field": "v", "type": "quantitative", "scale": {"domain": [-0.2, 1.2], "nice": false, "zero": false}, "axis": {"title": "Relative intensity [a.u.]", "values": [-0.2,0,0.2,0.4,0.6,0.8,1,1.2], "labelExpr": "datum.value < 0 ? '-' + format(-datum.value, '.1f') : format(datum.value, '.1f')"}},
    "color": {"field": "series", "type": "nominal", "scale": {"domain": ["m/z 45","m/z 59","m/z 61","m/z 80","m/z 81","m/z 95","m/z 97","m/z 109","m/z 111"], "range": ["#6a4cb4","#e070b0","#f2a54a","#5ec4e6","#b0305a","#2f8a4a","#3fb56a","#a8a2a0","#e8462e"]}, "legend": {"title": null}}
  }
},
{
  "title": "m/z 45 - Periphery of cell",
  "width": 510, "height": 334,
  "data": {"name": "bl"},
  "transform": [{"fold": ["200 sccm","400 sccm","800 sccm"], "as": ["series","v"]}],
  "mark": {"type": "line", "strokeWidth": 1.5, "clip": true},
  "encoding": {
    "x": {"field": "t", "type": "quantitative", "scale": {"domain": [-0.4, 2], "nice": false, "zero": false}, "axis": {"title": "Time [min]", "values": [-0.4,0,0.4,0.8,1.2,1.6,2], "offset": -48, "labelExpr": "datum.value < 0 ? '-' + format(-datum.value, '~g') : format(datum.value, '~g')"}},
    "y": {"field": "v", "type": "quantitative", "scale": {"domain": [-0.2, 1.2], "nice": false, "zero": false}, "axis": {"title": "Relative intensity [a.u.]", "values": [-0.2,0,0.2,0.4,0.6,0.8,1,1.2], "labelExpr": "datum.value < 0 ? '-' + format(-datum.value, '.1f') : format(datum.value, '.1f')"}},
    "color": {"field": "series", "type": "nominal", "scale": {"domain": ["200 sccm","400 sccm","800 sccm"], "range": ["#3fbccc","#e0729a","#4c4ca0"]}, "legend": {"title": null, "orient": "none", "legendX": 382, "legendY": 5}}
  }
},
{
  "title": "m/z 80 Periphery of cell",
  "width": 505, "height": 334,
  "data": {"name": "br"},
  "transform": [{"fold": ["200 sccm","400 sccm","800 sccm"], "as": ["series","v"]}],
  "mark": {"type": "line", "strokeWidth": 1.5, "clip": true},
  "encoding": {
    "x": {"field": "t", "type": "quantitative", "scale": {"domain": [-0.4, 1.98], "nice": false, "zero": false}, "axis": {"title": "Time [min]", "values": [-0.4,0,0.4,0.8,1.2,1.6], "offset": -48, "labelExpr": "datum.value < 0 ? '-' + format(-datum.value, '~g') : format(datum.value, '~g')"}},
    "y": {"field": "v", "type": "quantitative", "scale": {"domain": [-0.2, 1.2], "nice": false, "zero": false}, "axis": {"title": "Relative intensity [a.u.]", "values": [-0.2,0,0.2,0.4,0.6,0.8,1,1.2], "labelExpr": "datum.value < 0 ? '-' + format(-datum.value, '.1f') : format(datum.value, '.1f')"}},
    "color": {"field": "series", "type": "nominal", "scale": {"domain": ["200 sccm","400 sccm","800 sccm"], "range": ["#3fbccc","#e0729a","#4c4ca0"]}, "legend": {"title": null, "orient": "none", "legendX": 382, "legendY": 5}}
  }
}
]
}
